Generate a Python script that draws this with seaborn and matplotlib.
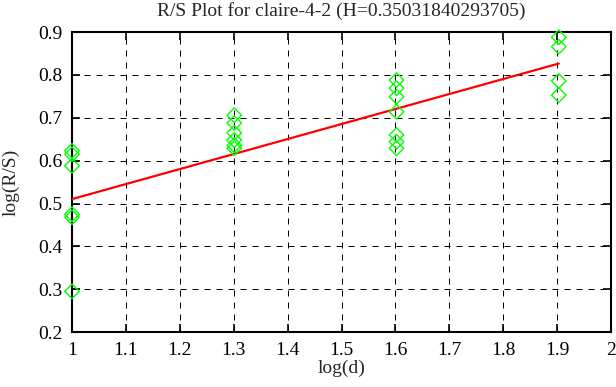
import numpy as np
import pandas as pd
import seaborn as sns
import matplotlib.pyplot as plt

# log(d) for each window size, and log(R/S) values
log_d = [1.0] * 6 + [1.30103] * 6 + [1.60206] * 7 + [1.90309] * 4
log_rs = [0.623, 0.615, 0.588, 0.475, 0.468, 0.295,
          0.706, 0.688, 0.665, 0.648, 0.636, 0.629,
          0.788, 0.769, 0.749, 0.714, 0.660, 0.644, 0.629,
          0.888, 0.866, 0.786, 0.753]

# fitted line
H = 0.35031840293705
intercept = 0.160
fit_x = [1.0, 1.90309]

x_ticks = [1, 1.1, 1.2, 1.3, 1.4, 1.5, 1.6, 1.7, 1.8, 1.9, 2]
y_ticks = [0.2, 0.3, 0.4, 0.5, 0.6, 0.7, 0.8, 0.9]

sns.set_style('ticks')
plt.rcParams['font.family'] = ['Liberation Serif', 'DejaVu Serif']
plt.rcParams['font.size'] = 14

df = pd.DataFrame({'log(d)': log_d, 'log(R/S)': log_rs})
fit_df = pd.DataFrame({'x': fit_x, 'y': [intercept + H * v for v in fit_x]})

fig = plt.figure(figsize=(6.16, 3.87), dpi=100)
ax = fig.add_axes([0.1169, 0.142, 0.875, 0.775])

sns.lineplot(data=fit_df, x='x', y='y', color='#ff0000', linewidth=1.6, ax=ax, zorder=3)
sns.scatterplot(data=df, x='log(d)', y='log(R/S)', marker='D', s=55,
                facecolor='none', edgecolor='#00ff00', linewidth=1.0, ax=ax,
                zorder=4, clip_on=False)

ax.set_xlim(1, 2)
ax.set_ylim(0.2, 0.9)
ax.set_xticks(x_ticks)
ax.set_xticklabels([f'{t:g}' for t in x_ticks])
ax.set_yticks(y_ticks)
ax.set_yticklabels([f'{t:.1f}' for t in y_ticks])
ax.grid(True, color='black', linestyle=(0, (6, 6)), linewidth=0.72)
ax.tick_params(direction='in', length=6, width=1.2, top=True, right=True,
               labelsize=14, colors='black', pad=7)
for s in ax.spines.values():
    s.set_linewidth(1.5)
    s.set_color('black')
    s.set_visible(True)

ax.set_xlabel('log(d)', fontsize=14, labelpad=1)
ax.set_ylabel('log(R/S)', fontsize=14, labelpad=13)
ax.set_title('R/S Plot for claire-4-2 (H=0.35031840293705)', fontsize=14, pad=12)

fig.savefig('out.png', dpi=100)
